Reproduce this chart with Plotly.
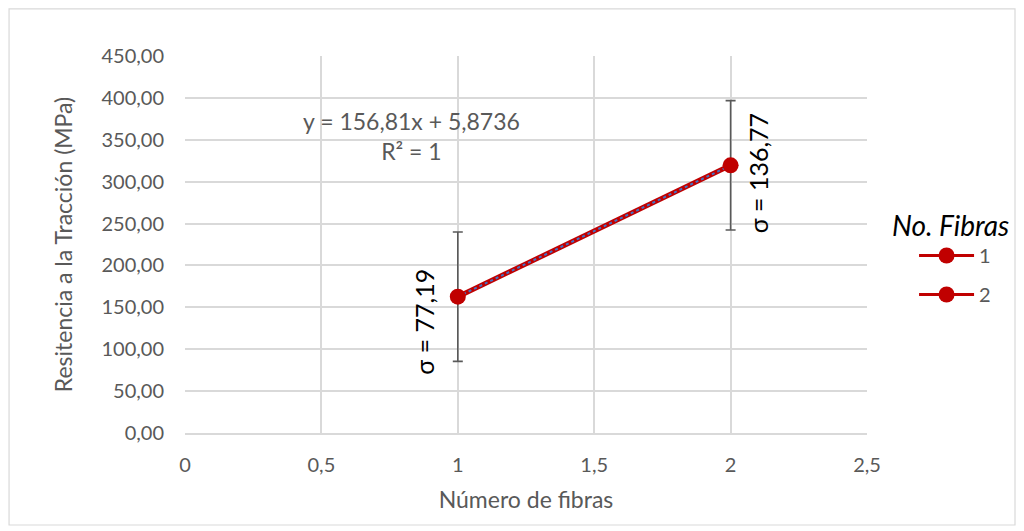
import plotly.graph_objects as go

# Data
fibras = [1, 2]
resistencia = [162.68, 319.49]
error_bar = [77.19, 77.19]
sigma_labels = ["σ = 77,19", "σ = 136,77"]
series_names = ["1", "2"]
pendiente = 156.81
intercepto = 5.8736

RED = "#C00000"
GRAY = "#595959"
GRID = "#D9D9D9"
FONT = "Lato, 'Open Sans', sans-serif"

fig = go.Figure()

# connecting line between the two means
fig.add_trace(go.Scatter(
    x=fibras, y=resistencia, mode="lines",
    line=dict(color=RED, width=5), showlegend=False, hoverinfo="skip"))

# linear trendline
trend_y = [pendiente * x + intercepto for x in fibras]
fig.add_trace(go.Scatter(
    x=fibras, y=trend_y, mode="lines",
    line=dict(color="#4472C4", width=2, dash="dot"), showlegend=False, hoverinfo="skip"))

# one series per number of fibres, with error bars
for i, name in enumerate(series_names):
    fig.add_trace(go.Scatter(
        x=[fibras[i]], y=[resistencia[i]], name=name, mode="lines+markers",
        legendgroup=name,
        line=dict(color=RED, width=3),
        marker=dict(color=RED, size=16),
        error_y=dict(type="data", array=[error_bar[i]], color=GRAY, thickness=1.6, width=5),
    ))

# sigma labels
fig.add_annotation(x=fibras[0], y=resistencia[0] - 30, xref="x", yref="y",
                   text=sigma_labels[0], textangle=-90, showarrow=False,
                   xshift=-34, font=dict(size=25, color="black", family=FONT))
fig.add_annotation(x=fibras[1], y=resistencia[1] - 10, xref="x", yref="y",
                   text=sigma_labels[1], textangle=-90, showarrow=False,
                   xshift=27, font=dict(size=25, color="black", family=FONT))

# trendline equation
fig.add_annotation(x=0.83, y=355, xref="x", yref="y",
                   text="y = 156,81x + 5,8736<br>R² = 1", showarrow=False,
                   align="center", font=dict(size=23, color=GRAY, family=FONT))

# legend heading
fig.add_annotation(x=1.123, y=0.552, xref="paper", yref="paper",
                   text="No. Fibras", showarrow=False, xanchor="center", yanchor="middle",
                   font=dict(size=28, color="black", style="italic", family=FONT))

# outer chart border
fig.add_shape(type="rect", xref="paper", yref="paper",
              x0=-0.258, x1=1.217, y0=-0.244, y1=1.125,
              line=dict(color=GRID, width=1.2), fillcolor="rgba(0,0,0,0)")

fig.update_layout(
    width=1024, height=531,
    margin=dict(l=185, r=157, t=56, b=98),
    paper_bgcolor="white", plot_bgcolor="white",
    separators=", ",
    font=dict(family=FONT, color=GRAY, size=20),
    legend=dict(
        x=1.069, y=0.5225, xanchor="left", yanchor="top",
        font=dict(size=20, color=GRAY, family=FONT),
        tracegroupgap=10,
        itemwidth=55,
    ),
    xaxis=dict(
        title=dict(text="Número de fibras", font=dict(size=23, color=GRAY), standoff=17),
        range=[0, 2.5], dtick=0.5, tick0=0,
        showgrid=True, gridcolor=GRID, gridwidth=1.5,
        zeroline=False, showline=True, linecolor=GRID, linewidth=1.5, mirror=False,
        ticks="", ticklabelstandoff=13, tickfont=dict(size=20, color=GRAY),
    ),
    yaxis=dict(
        title=dict(text="Resitencia a la Tracción (MPa)", font=dict(size=23, color=GRAY), standoff=22),
        range=[0, 450], dtick=50, tickformat=".2f",
        showgrid=True, gridcolor=GRID, gridwidth=1.5,
        zeroline=False, showline=False,
        ticks="", ticklabelstandoff=20, tickfont=dict(size=20, color=GRAY),
    ),
)

fig.write_html("out.html")
